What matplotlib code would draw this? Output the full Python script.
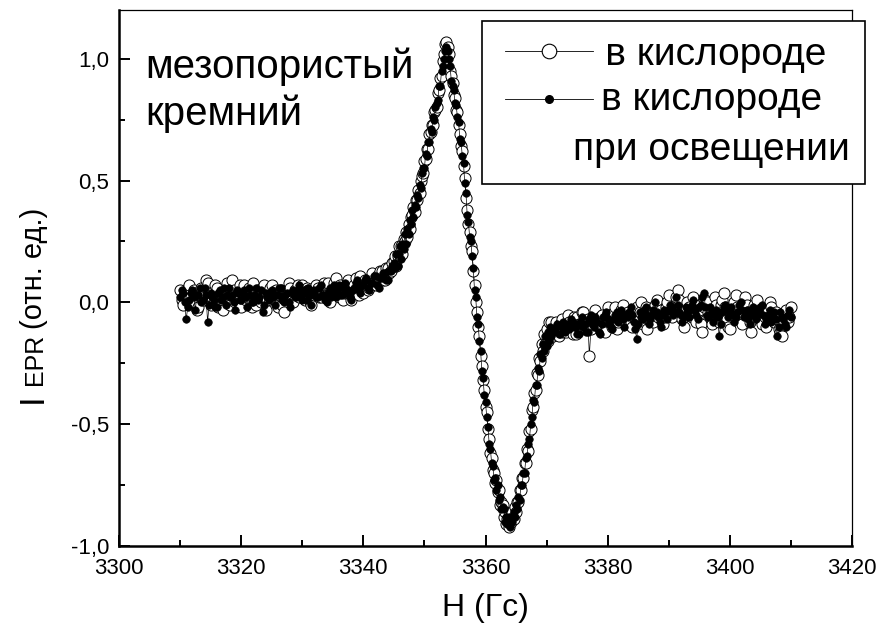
import numpy as np
import matplotlib
matplotlib.use('Agg')
import matplotlib.pyplot as plt
from matplotlib.lines import Line2D
from matplotlib.ticker import MultipleLocator, FuncFormatter

plt.rcParams['font.family'] = ['Liberation Sans', 'DejaVu Sans']

# magnetic field sweep (Гс): wings and the central line part
field_left = np.round(np.arange(3310.0, 3345.01, 0.25), 2)
field_mid = np.round(np.arange(3345.2, 3371.01, 0.2), 2)
field_right = np.round(np.arange(3371.25, 3410.01, 0.25), 2)

# в кислороде (open circles)
dark_left = [
    0.05, 0.01, -0.01, 0.04, 0.03, 0.06, 0.07, 0.02, 0.00, 0.05,
    0.04, -0.03, -0.02, 0.03, 0.06, 0.01, 0.02, 0.09, 0.08, 0.04,
    -0.01, 0.02, 0.03, 0.07, 0.06, -0.02, 0.01, 0.04, -0.03, 0.02,
    0.05, 0.08, 0.02, -0.01, 0.09, 0.05, 0.00, 0.03, 0.04, 0.07,
    -0.02, 0.03, 0.07, 0.01, 0.03, 0.06, 0.01, -0.02, 0.08, 0.04,
    -0.01, 0.05, 0.05, 0.00, 0.02, 0.07, -0.03, 0.01, 0.04, 0.06,
    0.07, 0.02, 0.01, 0.05, -0.02, 0.03, 0.05, -0.01, -0.04, 0.02,
    0.03, 0.08, 0.06, 0.01, 0.00, 0.05, 0.04, 0.07, 0.02, 0.03,
    0.07, 0.02, 0.01, 0.06, 0.05, 0.00, -0.01, 0.04, 0.03, 0.07,
    0.06, 0.02, 0.02, 0.05, 0.08, 0.03, 0.03, 0.08, 0.00, 0.04,
    0.05, 0.08, 0.10, 0.04, 0.02, 0.07, 0.06, 0.01, 0.04, 0.08,
    0.09, 0.03, 0.01, 0.06, 0.07, 0.10, 0.05, 0.03, 0.11, 0.07,
    0.04, 0.09, 0.08, 0.05, 0.06, 0.10, 0.12, 0.08, 0.07, 0.11,
    0.10, 0.13, 0.13, 0.09, 0.09, 0.14, 0.14, 0.12, 0.13, 0.16,
    0.17]
dark_mid = [
    0.19, 0.15, 0.19, 0.23, 0.19, 0.23, 0.20, 0.26, 0.25, 0.29,
    0.27, 0.32, 0.30, 0.35, 0.36, 0.39, 0.37, 0.42, 0.42, 0.46,
    0.45, 0.50, 0.52, 0.53, 0.58, 0.59, 0.63, 0.63, 0.69, 0.70,
    0.73, 0.73, 0.78, 0.79, 0.80, 0.86, 0.87, 0.92, 0.93, 0.99,
    1.02, 1.06, 1.07, 1.05, 1.02, 0.95, 0.93, 0.90, 0.85, 0.84,
    0.79, 0.78, 0.73, 0.69, 0.64, 0.62, 0.56, 0.51, 0.43, 0.38,
    0.32, 0.29, 0.23, 0.21, 0.13, 0.07, 0.00, -0.04, -0.10, -0.14,
    -0.22, -0.26, -0.32, -0.36, -0.43, -0.45, -0.52, -0.56, -0.62, -0.64,
    -0.69, -0.70, -0.74, -0.73, -0.78, -0.77, -0.83, -0.82, -0.83, -0.88,
    -0.86, -0.91, -0.89, -0.92, -0.88, -0.90, -0.86, -0.89, -0.84, -0.86,
    -0.82, -0.82, -0.77, -0.77, -0.72, -0.72, -0.66, -0.66, -0.60, -0.61,
    -0.53, -0.52, -0.44, -0.43, -0.37, -0.36, -0.29, -0.30, -0.23, -0.24,
    -0.17, -0.20, -0.13, -0.17, -0.11, -0.16, -0.08, -0.14, -0.08, -0.14]
dark_right = [
    -0.13, -0.08, -0.11, -0.14, -0.09, -0.07, -0.12, -0.10, -0.12, -0.05,
    -0.08, -0.10, -0.13, -0.06, -0.13, -0.06, -0.09, -0.11, -0.04, -0.04,
    -0.10, -0.09, -0.07, -0.22, -0.11, -0.07, -0.05, -0.03, -0.09, -0.10,
    -0.06, -0.05, -0.08, -0.12, -0.07, -0.02, -0.05, -0.08, -0.10, -0.04,
    -0.02, -0.11, -0.08, -0.06, -0.03, -0.01, -0.07, -0.09, -0.04, -0.05,
    -0.08, -0.10, -0.06, -0.03, -0.02, -0.07, -0.04, 0.00, -0.09, -0.06,
    -0.02, -0.11, -0.07, -0.03, -0.05, -0.08, -0.01, 0.01, -0.06, -0.05,
    -0.03, -0.09, -0.06, -0.02, 0.00, 0.03, -0.05, -0.06, -0.03, -0.01,
    0.02, 0.05, 0.01, -0.04, -0.07, -0.10, -0.03, 0.00, -0.02, -0.05,
    -0.06, 0.02, -0.01, -0.08, -0.04, -0.03, -0.09, -0.12, -0.02, 0.01,
    0.00, -0.04, -0.06, -0.09, -0.03, 0.02, -0.01, -0.06, -0.08, -0.01,
    0.01, 0.04, -0.02, -0.07, -0.10, -0.11, -0.05, -0.02, 0.00, 0.03,
    -0.02, -0.05, -0.07, -0.09, -0.03, 0.02, -0.01, -0.04, -0.08, -0.12,
    -0.06, -0.01, -0.03, 0.01, -0.04, -0.07, -0.09, -0.03, -0.06, -0.10,
    -0.04, 0.00, -0.02, -0.06, -0.08, -0.04, -0.07, -0.11, -0.12, -0.14,
    -0.09, -0.05, -0.03, -0.08, -0.06, -0.02]

# в кислороде при освещении (filled dots)
light_left = [
    0.02, 0.05, 0.04, 0.00, -0.07, -0.02, 0.01, 0.04, 0.05, 0.02,
    -0.03, 0.03, 0.03, 0.06, 0.00, 0.01, 0.06, 0.03, -0.08, -0.01,
    0.04, 0.02, 0.01, -0.02, -0.02, 0.04, 0.05, 0.01, 0.02, 0.06,
    -0.01, 0.03, 0.06, 0.02, 0.03, 0.00, -0.03, 0.05, 0.04, 0.01,
    0.01, 0.04, 0.05, 0.02, -0.02, 0.06, 0.03, 0.00, 0.00, 0.03,
    0.06, 0.01, 0.02, 0.05, -0.04, -0.01, 0.04, 0.02, 0.01, 0.04,
    0.05, 0.02, -0.01, 0.03, 0.03, 0.06, 0.06, 0.01, 0.00, 0.03,
    0.04, 0.00, -0.02, 0.04, 0.05, 0.02, 0.02, 0.05, 0.07, 0.03,
    0.01, 0.05, 0.04, 0.01, 0.06, 0.03, -0.01, 0.04, 0.05, 0.02,
    0.02, 0.06, 0.07, 0.03, 0.03, 0.01, 0.00, 0.04, 0.06, 0.02,
    0.04, 0.07, 0.02, 0.05, 0.07, 0.03, 0.03, 0.06, 0.08, 0.04,
    0.05, 0.02, 0.01, 0.05, 0.06, 0.08, 0.09, 0.05, 0.04, 0.07,
    0.07, 0.09, 0.10, 0.06, 0.05, 0.08, 0.08, 0.11, 0.11, 0.07,
    0.06, 0.10, 0.10, 0.12, 0.12, 0.09, 0.09, 0.13, 0.13, 0.15,
    0.16]
light_mid = [
    0.14, 0.20, 0.15, 0.20, 0.23, 0.18, 0.24, 0.22, 0.28, 0.24,
    0.30, 0.28, 0.34, 0.32, 0.38, 0.35, 0.40, 0.39, 0.44, 0.43,
    0.48, 0.47, 0.53, 0.55, 0.55, 0.61, 0.60, 0.66, 0.66, 0.71,
    0.70, 0.76, 0.75, 0.80, 0.82, 0.83, 0.89, 0.89, 0.95, 0.97,
    1.00, 1.03, 1.05, 1.03, 1.00, 0.97, 0.91, 0.89, 0.87, 0.82,
    0.81, 0.76, 0.74, 0.67, 0.66, 0.60, 0.57, 0.49, 0.45, 0.36,
    0.33, 0.27, 0.25, 0.19, 0.14, 0.05, 0.02, -0.06, -0.09, -0.16,
    -0.20, -0.28, -0.31, -0.38, -0.41, -0.47, -0.51, -0.58, -0.60, -0.66,
    -0.67, -0.73, -0.72, -0.77, -0.75, -0.81, -0.80, -0.85, -0.84, -0.85,
    -0.90, -0.88, -0.91, -0.88, -0.92, -0.88, -0.90, -0.86, -0.88, -0.83,
    -0.85, -0.80, -0.81, -0.75, -0.75, -0.70, -0.70, -0.64, -0.63, -0.58,
    -0.56, -0.50, -0.47, -0.40, -0.41, -0.34, -0.34, -0.27, -0.28, -0.21,
    -0.23, -0.17, -0.20, -0.14, -0.18, -0.12, -0.16, -0.10, -0.14, -0.11]
light_right = [
    -0.12, -0.10, -0.09, -0.13, -0.13, -0.10, -0.08, -0.12, -0.11, -0.09,
    -0.11, -0.07, -0.08, -0.10, -0.10, -0.13, -0.13, -0.08, -0.06, -0.10,
    -0.09, -0.12, -0.12, -0.07, -0.05, -0.09, -0.10, -0.06, -0.08, -0.12,
    -0.13, -0.09, -0.06, -0.05, -0.04, -0.07, -0.09, -0.10, -0.11, -0.07,
    -0.05, -0.04, -0.08, -0.06, -0.03, -0.07, -0.10, -0.05, -0.06, -0.04,
    -0.02, -0.05, -0.08, -0.11, -0.15, -0.09, -0.04, -0.06, -0.07, -0.03,
    -0.02, -0.05, -0.09, -0.07, -0.05, -0.03, 0.00, -0.04, -0.06, -0.08,
    -0.10, -0.05, -0.03, -0.04, -0.07, -0.03, -0.01, -0.02, -0.05, -0.04,
    0.02, -0.01, -0.04, -0.05, -0.08, -0.06, -0.02, -0.04, -0.06, -0.03,
    -0.01, 0.01, -0.03, -0.05, -0.07, -0.02, -0.01, 0.02, 0.04, -0.02,
    -0.05, -0.06, -0.02, -0.04, -0.08, -0.05, -0.03, -0.06, -0.14, -0.09,
    -0.04, -0.02, -0.01, -0.03, -0.06, -0.04, -0.02, -0.05, -0.08, -0.06,
    -0.04, -0.01, 0.00, -0.03, -0.06, -0.04, -0.03, -0.07, -0.09, -0.05,
    -0.02, -0.04, -0.07, -0.05, -0.04, -0.02, -0.01, -0.05, -0.09, -0.07,
    -0.05, -0.03, -0.08, -0.06, -0.04, -0.07, -0.14, -0.10, -0.04, -0.06,
    -0.07, -0.09, -0.10, -0.05, -0.03, -0.06]

labels = ['в кислороде', 'в кислороде\nпри освещении']
x_ticks = [3300, 3320, 3340, 3360, 3380, 3400, 3420]
y_ticks = [-1.0, -0.5, 0.0, 0.5, 1.0]

field = np.concatenate([field_left, field_mid, field_right])
dark = np.array(dark_left + dark_mid + dark_right)
light = np.array(light_left + light_mid + light_right)

W, H = 877, 623
fig = plt.figure(figsize=(W / 100, H / 100), dpi=100)
ax = fig.add_axes([119 / W, 1 - 546 / H, (852 - 119) / W, (546 - 10) / H])

ax.plot(field, dark, color='black', lw=0.5, marker='o', ms=8.0,
        mfc='white', mec='black', mew=0.7)
ax.plot(field, light, color='black', lw=0.5, marker='o', ms=5.4,
        mfc='black', mec='black', mew=0.5)

ax.set_xlim(3300, 3420)
ax.set_ylim(-1.0, 1.2)
ax.set_xticks(x_ticks)
ax.set_yticks(y_ticks)
ax.xaxis.set_minor_locator(MultipleLocator(10))
ax.yaxis.set_minor_locator(MultipleLocator(0.25))
ax.yaxis.set_major_formatter(FuncFormatter(lambda v, _: f'{v:.1f}'.replace('.', ',')))

ax.tick_params(which='both', direction='in', top=False, right=False, width=1.4)
ax.tick_params(which='major', length=8, labelsize=16, pad=7)
ax.tick_params(axis='x', which='major', pad=9)
ax.tick_params(which='minor', length=4.5)
for side in ['left', 'bottom']:
    ax.spines[side].set_linewidth(1.8)
for side in ['top', 'right']:
    ax.spines[side].set_linewidth(0.9)

ax.set_xlabel('H (Гс)', fontsize=23, labelpad=10)

# y label: I with smaller EPR and units
ylab_x = 42 / W
kw = dict(rotation=90, rotation_mode='anchor', ha='left', va='baseline')
fig.text(ylab_x, 1 - 403 / H, 'I', fontsize=25, **kw)
fig.text(ylab_x, 1 - 385 / H, 'EPR', fontsize=18, **kw)
fig.text(ylab_x, 1 - 329 / H, '(отн. ед.)', fontsize=21, **kw)

fig.text(145 / W, 1 - 48 / H, 'мезопористый\nкремний', fontsize=29,
         ha='left', va='top', linespacing=1.25)

h_dark = Line2D([], [], color='black', lw=0.6, marker='o', ms=10.5,
                mfc='white', mec='black', mew=0.8)
h_light = Line2D([], [], color='black', lw=0.6, marker='o', ms=5.5,
                 mfc='black', mec='black')
leg_labels = ['   ' + labels[0], labels[1]]
leg = ax.legend([h_dark, h_light], leg_labels, loc='upper left',
                bbox_to_anchor=(482 / W, 1 - 21 / H), bbox_transform=fig.transFigure,
                fontsize=28, fancybox=False, edgecolor='black', framealpha=1,
                borderpad=0.4, handlelength=1.6, handletextpad=0.34,
                labelspacing=0.25, borderaxespad=0)
leg.get_frame().set_linewidth(1.2)
leg.texts[1].set_multialignment('center')
leg.texts[1].set_linespacing(1.5)
# handles: longer line, second marker beside the first line of its label
for i, hl in enumerate(leg.legend_handles):
    hl.set_xdata([5.3, 37.0, 68.7])
    if i == 1:
        hl.set_ydata(np.asarray(hl.get_ydata()) + 19)

fig.savefig('out.png', dpi=100)
